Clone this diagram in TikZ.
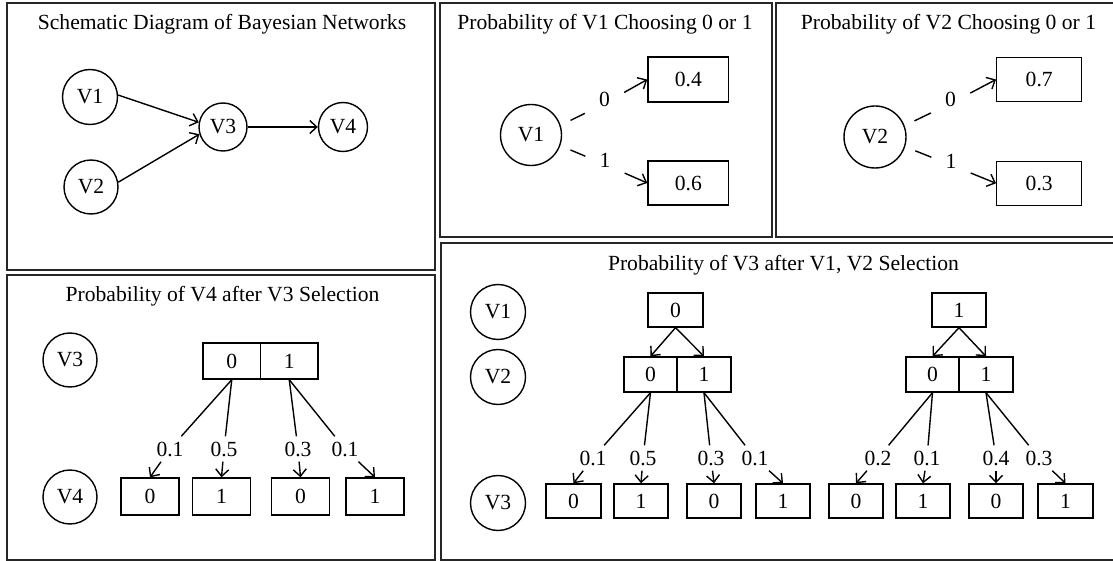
\documentclass[tikz,border=0pt]{standalone}
\usepackage{fontspec}
\setmainfont{Liberation Serif}
\usetikzlibrary{arrows.meta}
\begin{document}
\begin{tikzpicture}[x=1pt,y=-1pt,
  font=\fontsize{21.6}{25}\selectfont,
  line width=1.4pt,
  panel/.style={draw=black!85, line width=2pt},
  circ/.style={draw, circle, inner sep=0pt, line width=1.4pt, minimum size=#1},
  box/.style={draw, rectangle, inner sep=0pt, line width=1.4pt},
  arr/.style={-{Straight Barb[length=7pt,width=13pt]}},
  lab/.style={inner sep=0pt, minimum width=26pt, minimum height=24pt},
  labb/.style={inner sep=0pt, minimum width=38pt, text height=14.5pt, text depth=8pt},
  ttl/.style={anchor=base, inner sep=0pt}
]
\useasboundingbox (0,0) rectangle (1113,561);
\fill[white] (0,0) rectangle (1113,561);
\clip (0,0) rectangle (1113,561);

% panels
\draw[panel] (7,3) rectangle (435,270);
\draw[panel] (440,3) rectangle (772,237);
\draw[panel] (776,3) rectangle (1125,237);
\draw[panel] (7,275) rectangle (435,560);
\draw[panel] (441,243) rectangle (1125,560);

% ---------- Panel 1
\node[ttl] (t1) at (222,30) {Schematic Diagram of Bayesian Networks};
\node[circ=55pt] (aV1) at (90,97) {V1};
\node[circ=54pt] (aV2) at (91,187) {V2};
\node[circ=48pt] (aV3) at (223,127) {V3};
\node[circ=49pt] (aV4) at (343,127) {V4};
\draw[arr] (aV1.4) -- (aV3.169);
\draw[arr] (aV2.10) -- (aV3.197);
\draw[arr] (aV3) -- (aV4);

% ---------- Panel 2
\node[ttl] (t2) at (605,30) {Probability of V1 Choosing 0 or 1};
\node[circ=61pt] (bV1) at (531,135) {V1};
\node[box, minimum width=80.7pt, minimum height=45pt] (b04) at (688.3,79.5) {0.4};
\node[box, minimum width=80.7pt, minimum height=44pt] (b06) at (688.3,183) {0.6};
\node[labb] (l20) at (604.5,103.5) {0};
\node[labb] (l21) at (605,164.5) {1};
\draw[shorten <=11pt] (bV1.18) -- (l20);
\draw[arr] (l20) -- (b04.west);
\draw[shorten <=11pt] (bV1.-20) -- (l21);
\draw[arr] (l21) -- (b06.west);

% ---------- Panel 3
\node[ttl] (t3) at (948.5,30) {Probability of V2 Choosing 0 or 1};
\node[circ=62pt] (cV2) at (875,137) {V2};
\node[box, minimum width=85pt, minimum height=44.5pt] (b07) at (1039.2,79.5) {0.7};
\node[box, minimum width=85pt, minimum height=44pt] (b03) at (1039.2,183.3) {0.3};
\node[labb] (l30) at (950.5,103.5) {0};
\node[labb] (l31) at (951,165) {1};
\draw[shorten <=11pt] (cV2.21) -- (l30);
\draw[arr] (l30) -- (b07.west);
\draw[shorten <=11pt] (cV2.-18) -- (l31);
\draw[arr] (l31) -- (b03.west);

% ---------- Panel 4
\node[ttl] (t4) at (222.5,301.7) {Probability of V4 after V3 Selection};
\node[circ=54pt] (dV3) at (70,360) {V3};
\node[circ=54pt] (dV4) at (70,497) {V4};
\node[box, minimum width=57.5pt, minimum height=36pt] (dc0) at (231.75,361) {0};
\node[box, minimum width=57.5pt, minimum height=36pt] (dc1) at (289.25,361) {1};
\node[box, minimum width=58pt, minimum height=37pt] (db1) at (150,496.5) {0};
\node[box, minimum width=58pt, minimum height=37pt] (db2) at (221.5,496.5) {1};
\node[box, minimum width=58pt, minimum height=37pt] (db3) at (300.5,496.5) {0};
\node[box, minimum width=58pt, minimum height=37pt] (db4) at (375,496.5) {1};
\node[lab] (dl1) at (170,449) {0.1};
\node[lab] (dl2) at (224,449) {0.5};
\node[lab] (dl3) at (298,449) {0.3};
\node[lab] (dl4) at (345,449) {0.1};
\draw (dc0.south) -- (dl1); \draw[arr] (dl1) -- (db1.north);
\draw (dc0.south) -- (dl2); \draw[arr] (dl2) -- (db2.north);
\draw (dc1.south) -- (dl3); \draw[arr] (dl3) -- (db3.north);
\draw (dc1.south) -- (dl4); \draw[arr] (dl4) -- (db4.north);

% ---------- Panel 5
\node[ttl] (t5) at (783.5,270) {Probability of V3 after V1, V2 Selection};
\node[circ=55pt] (eV1) at (498,312) {V1};
\node[circ=55pt] (eV2) at (498,377) {V2};
\node[circ=55pt] (eV3) at (498,503) {V3};
% left tree
\node[box, minimum width=55pt, minimum height=34pt] (et0) at (675.5,310) {0};
\node[box, minimum width=53pt, minimum height=35pt] (eL0) at (650.5,374.5) {0};
\node[box, minimum width=54pt, minimum height=35pt] (eL1) at (704,374.5) {1};
\draw[arr] (et0.south) -- (eL0.north);
\draw[arr] (et0.south) -- (eL1.north);
\node[box, minimum width=55pt, minimum height=34pt] (eb1) at (573.5,501) {0};
\node[box, minimum width=54pt, minimum height=34pt] (eb2) at (641,501) {1};
\node[box, minimum width=54pt, minimum height=34pt] (eb3) at (714,501) {0};
\node[box, minimum width=54pt, minimum height=34pt] (eb4) at (783,501) {1};
\node[lab] (el1) at (593,458) {0.1};
\node[lab] (el2) at (643,458) {0.5};
\node[lab] (el3) at (711,458) {0.3};
\node[lab] (el4) at (755,458) {0.1};
\draw (eL0.south) -- (el1); \draw[arr] (el1) -- (eb1.north);
\draw (eL0.south) -- (el2); \draw[arr] (el2) -- (eb2.north);
\draw (eL1.south) -- (el3); \draw[arr] (el3) -- (eb3.north);
\draw (eL1.south) -- (el4); \draw[arr] (el4) -- (eb4.north);
% right tree
\node[box, minimum width=54pt, minimum height=34pt] (ft0) at (959,310) {1};
\node[box, minimum width=53pt, minimum height=35pt] (fR0) at (932.5,374.5) {0};
\node[box, minimum width=54pt, minimum height=35pt] (fR1) at (986,374.5) {1};
\draw[arr] (ft0.south) -- (fR0.north);
\draw[arr] (ft0.south) -- (fR1.north);
\node[box, minimum width=54pt, minimum height=34pt] (fb1) at (856,501) {0};
\node[box, minimum width=54pt, minimum height=34pt] (fb2) at (923,501) {1};
\node[box, minimum width=54pt, minimum height=34pt] (fb3) at (996,501) {0};
\node[box, minimum width=55pt, minimum height=34pt] (fb4) at (1065.5,501) {1};
\node[lab] (fl1) at (878,458) {0.2};
\node[lab] (fl2) at (927,458) {0.1};
\node[lab] (fl3) at (996,458) {0.4};
\node[lab] (fl4) at (1039,458) {0.3};
\draw (fR0.south) -- (fl1); \draw[arr] (fl1) -- (fb1.north);
\draw (fR0.south) -- (fl2); \draw[arr] (fl2) -- (fb2.north);
\draw (fR1.south) -- (fl3); \draw[arr] (fl3) -- (fb3.north);
\draw (fR1.south) -- (fl4); \draw[arr] (fl4) -- (fb4.north);
\end{tikzpicture}
\end{document}
